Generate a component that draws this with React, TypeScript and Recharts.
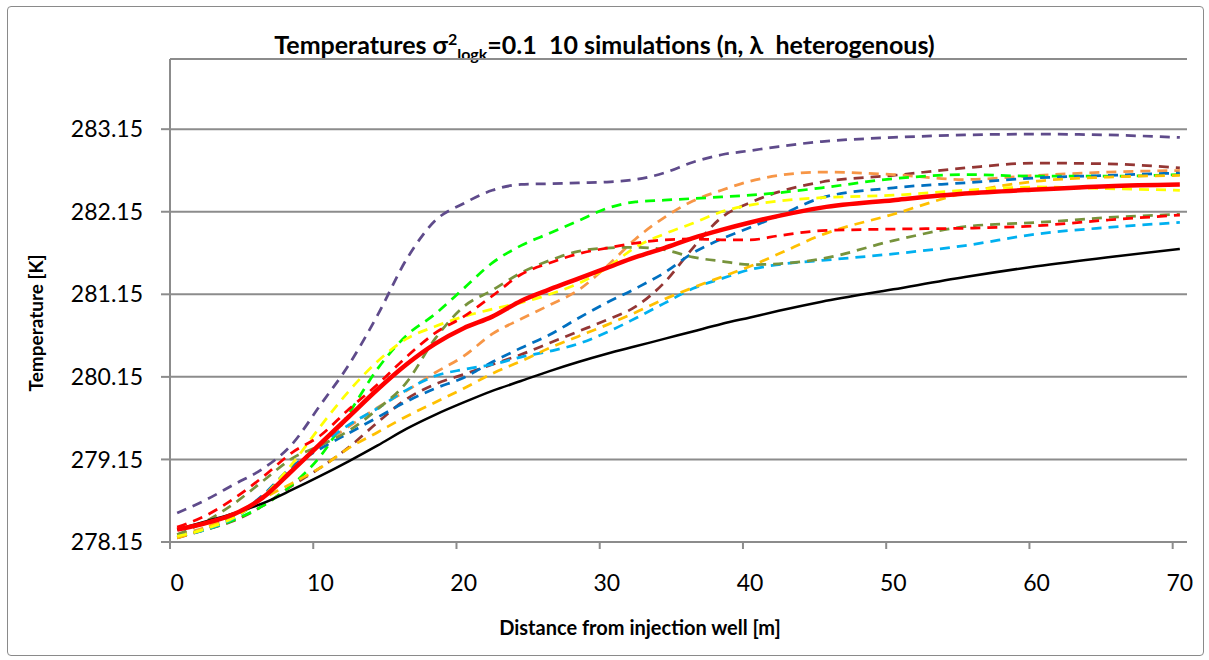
import { CartesianGrid, Line, LineChart, XAxis, YAxis } from "recharts";

// distance from injection well [m] (category axis, one category per metre)
const distance = [0, 2, 4, 6, 8, 10, 12, 14, 16, 18, 20, 22, 24, 26, 28, 30, 32, 34, 36, 38, 40, 42, 45, 50, 55, 60, 65, 70];

// 10 heterogenous simulations (dashed)
const simPurple = [278.5, 278.66, 278.85, 279.04, 279.33, 279.81, 280.3, 280.9, 281.57, 282.04, 282.25, 282.41, 282.48, 282.49, 282.5, 282.51, 282.54, 282.62, 282.75, 282.84, 282.89, 282.94, 283.0, 283.05, 283.08, 283.09, 283.08, 283.05];
const simGreen = [278.22, 278.3, 278.42, 278.59, 278.84, 279.19, 279.71, 280.25, 280.65, 280.91, 281.22, 281.53, 281.74, 281.89, 282.04, 282.19, 282.27, 282.29, 282.31, 282.33, 282.35, 282.38, 282.44, 282.55, 282.6, 282.58, 282.58, 282.6];
const simYellow = [278.22, 278.31, 278.45, 278.7, 279.09, 279.55, 279.98, 280.34, 280.61, 280.76, 280.88, 280.97, 281.05, 281.15, 281.28, 281.47, 281.72, 281.88, 282.01, 282.15, 282.23, 282.28, 282.32, 282.35, 282.41, 282.45, 282.43, 282.41];
const simRed = [278.33, 278.47, 278.68, 278.94, 279.23, 279.44, 279.76, 280.06, 280.39, 280.68, 280.88, 281.13, 281.39, 281.53, 281.64, 281.71, 281.77, 281.81, 281.82, 281.81, 281.81, 281.86, 281.92, 281.94, 281.95, 281.98, 282.05, 282.11];
const simOlive = [278.24, 278.4, 278.62, 278.89, 279.16, 279.32, 279.5, 279.76, 280.08, 280.61, 281.0, 281.2, 281.41, 281.56, 281.67, 281.71, 281.72, 281.69, 281.6, 281.55, 281.51, 281.52, 281.58, 281.8, 281.97, 282.02, 282.08, 282.12];
const simBrown = [278.2, 278.3, 278.41, 278.59, 278.83, 279.05, 279.3, 279.6, 279.88, 280.06, 280.18, 280.3, 280.42, 280.56, 280.7, 280.84, 281.0, 281.29, 281.71, 282.08, 282.26, 282.39, 282.51, 282.59, 282.68, 282.74, 282.73, 282.68];
const simBlue = [278.22, 278.31, 278.46, 278.72, 279.06, 279.28, 279.47, 279.66, 279.85, 280.01, 280.14, 280.33, 280.5, 280.66, 280.86, 281.05, 281.22, 281.41, 281.65, 281.82, 281.96, 282.1, 282.32, 282.44, 282.5, 282.56, 282.59, 282.62];
const simLightBlue = [278.22, 278.3, 278.44, 278.7, 279.03, 279.32, 279.57, 279.77, 279.99, 280.16, 280.24, 280.3, 280.39, 280.46, 280.55, 280.69, 280.86, 281.04, 281.22, 281.34, 281.45, 281.51, 281.56, 281.64, 281.74, 281.88, 281.96, 282.02];
const simOrange = [278.24, 278.33, 278.48, 278.71, 279.03, 279.31, 279.55, 279.78, 279.98, 280.2, 280.4, 280.67, 280.85, 281.02, 281.2, 281.49, 281.82, 282.08, 282.28, 282.41, 282.52, 282.59, 282.63, 282.6, 282.54, 282.59, 282.63, 282.65];
const simGold = [278.2, 278.32, 278.49, 278.68, 278.86, 279.05, 279.29, 279.48, 279.67, 279.84, 280.01, 280.19, 280.34, 280.5, 280.64, 280.78, 280.93, 281.09, 281.23, 281.36, 281.49, 281.64, 281.87, 282.12, 282.38, 282.52, 282.57, 282.59];

// mean of simulations and homogeneous case
const meanTemp = [278.3, 278.38, 278.49, 278.69, 279.01, 279.34, 279.67, 280.0, 280.3, 280.55, 280.74, 280.88, 281.07, 281.21, 281.34, 281.47, 281.6, 281.71, 281.83, 281.93, 282.02, 282.1, 282.2, 282.29, 282.37, 282.42, 282.46, 282.48];
const homogeneous = [278.3, 278.4, 278.5, 278.62, 278.78, 278.95, 279.13, 279.32, 279.52, 279.69, 279.84, 279.98, 280.1, 280.22, 280.33, 280.43, 280.52, 280.61, 280.7, 280.79, 280.87, 280.95, 281.06, 281.21, 281.36, 281.49, 281.6, 281.7];

const xTickLabels = [0, 10, 20, 30, 40, 50, 60, 70];
const yTicks = [278.15, 279.15, 280.15, 281.15, 282.15, 283.15];

const dashed = [
  { key: "purple", values: simPurple, color: "#5F4B8B" },
  { key: "brown", values: simBrown, color: "#943634" },
  { key: "orange", values: simOrange, color: "#F79646" },
  { key: "green", values: simGreen, color: "#00FF00" },
  { key: "blue", values: simBlue, color: "#0070C0" },
  { key: "lightBlue", values: simLightBlue, color: "#00B0F0" },
  { key: "olive", values: simOlive, color: "#77933C" },
  { key: "gold", values: simGold, color: "#FFC000" },
  { key: "yellow", values: simYellow, color: "#FFFF00" },
  { key: "red", values: simRed, color: "#FF0000" },
];

const data = distance.map((x, i) => {
  const row: Record<string, number> = { x, mean: meanTemp[i], homog: homogeneous[i] };
  dashed.forEach((s) => (row[s.key] = s.values[i]));
  return row;
});

const axisGray = "#8C8C8C";
const font = "Lato, 'Open Sans', sans-serif";

// plot is 1017px wide over 71 one-metre categories; labels sit mid-category
const halfCategory = 1017 / 71 / 2;

// tick marks on category boundaries, labels at category centres (Excel category axis)
const CategoryTick = (props: any) => {
  const { x, y, index } = props;
  return (
    <text x={x + halfCategory} y={y} dy="0.71em" textAnchor="middle" fontSize={23} fill="#000" fontFamily={font}>
      {xTickLabels[index]}
    </text>
  );
};

export default function App() {
  return (
    <div style={{ position: "absolute", left: 0, top: 0, width: 1209, height: 660, background: "#fff", fontFamily: font }}>
      <div
        style={{
          position: "absolute",
          left: 7,
          top: 6,
          width: 1195,
          height: 648,
          border: "1px solid #8a8a8a",
          borderRadius: 4,
        }}
      />
      <div
        style={{
          position: "absolute",
          left: 0,
          width: 1209,
          top: 27,
          textAlign: "center",
          fontWeight: 700,
          fontSize: 25,
          color: "#000",
          lineHeight: "34px",
        }}
      >
        Temperatures σ<sup style={{ fontSize: 16, lineHeight: 0 }}>2</sup>
        <sub style={{ fontSize: 16, lineHeight: 0 }}>logk</sub>=0.1&nbsp; 10 simulations (n, λ&nbsp; heterogenous)
      </div>
      <div
        style={{
          position: "absolute",
          left: 35,
          top: 323,
          transform: "translate(-50%, -50%) rotate(-90deg)",
          fontWeight: 700,
          fontSize: 19,
          whiteSpace: "nowrap",
        }}
      >
        Temperature [K]
      </div>
      <div
        style={{
          position: "absolute",
          left: 640,
          top: 627,
          transform: "translate(-50%, -50%)",
          fontWeight: 700,
          fontSize: 20,
          whiteSpace: "nowrap",
        }}
      >
        Distance from injection well [m]
      </div>
      <div style={{ position: "absolute", left: 0, top: 0 }}>
        <LineChart width={1209} height={660} data={data} margin={{ top: 59, right: 22, bottom: 58, left: 0 }}>
          <CartesianGrid vertical={false} stroke={axisGray} strokeWidth={2} />
          <XAxis
            dataKey="x"
            type="number"
            domain={[-0.5, 70.5]}
            ticks={xTickLabels.map((v) => v - 0.5)}
            height={60}
            stroke={axisGray}
            strokeWidth={2}
            tickSize={7}
            tickMargin={26}
            tick={<CategoryTick />}
          />
          <YAxis
            type="number"
            domain={[278.15, 284]}
            ticks={yTicks}
            width={170}
            stroke={axisGray}
            strokeWidth={2}
            tickSize={9}
            tickMargin={18}
            tickFormatter={(v: number) => v.toFixed(2)}
            tick={{ fontSize: 23, fill: "#000", fontFamily: font }}
          />
          {dashed.map((s) => (
            <Line
              key={s.key}
              type="monotone"
              dataKey={s.key}
              stroke={s.color}
              strokeWidth={2.75}
              strokeDasharray="10 7"
              dot={false}
              isAnimationActive={false}
            />
          ))}
          <Line type="monotone" dataKey="homog" stroke="#000" strokeWidth={2.5} dot={false} isAnimationActive={false} />
          <Line type="monotone" dataKey="mean" stroke="#FF0000" strokeWidth={4.5} dot={false} isAnimationActive={false} />
        </LineChart>
      </div>
    </div>
  );
}
